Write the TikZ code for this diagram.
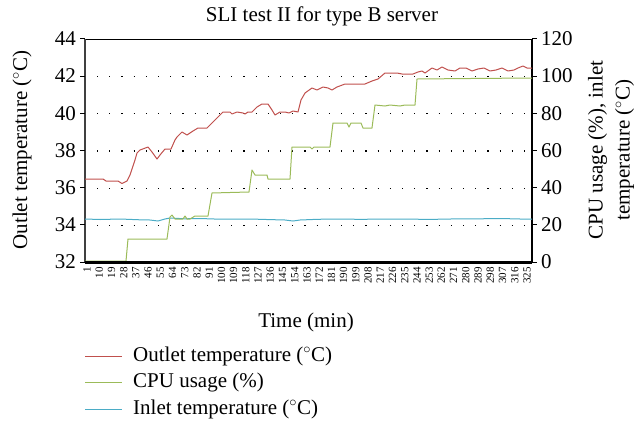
\documentclass[tikz,border=0pt]{standalone}
\usepackage{fontspec}
\setmainfont{Liberation Serif}
\definecolor{outred}{HTML}{C0504D}
\definecolor{cpugreen}{HTML}{9BBB59}
\definecolor{inblue}{HTML}{4BACC6}
\begin{document}
\begin{tikzpicture}[x=1pt,y=-1pt,
  lbl/.style={inner sep=0pt,font=\fontsize{21}{27}\selectfont},
  xlbl/.style={inner sep=0pt,rotate=90,anchor=east,font=\fontsize{11}{11}\selectfont},
  grid/.style={line width=1.2pt,dash pattern=on 1.2pt off 11pt},
  series/.style={line width=1pt,line join=round},
  legline/.style={line width=0.8pt}]
\useasboundingbox (0,0) rectangle (643,424);
% gridlines
\foreach \yy in {76.6,113.8,151,188.2,225.4}{
  \draw[grid] (97,\yy) -- (532,\yy);
}
% frame
\coordinate (tl) at (85,39);
\coordinate (tr) at (532,39);
\coordinate (bl) at (85,262);
\coordinate (br) at (532,262);
\draw[line width=0.8pt] (tl) -- (tr);
\draw[line width=1.2pt] (tr) -- (br);
\draw[line width=2pt,black!75] (tl) -- (bl);
% left ticks and labels
\foreach \v [count=\i from 0] in {32,34,36,38,40,42,44}{
  \pgfmathsetmacro{\yy}{262-\i*37.2}
  \draw[line width=1pt] (80,\yy) -- (85,\yy);
  \node[lbl,anchor=east] (yl\i) at (76,\yy) {\v};
}
% right ticks and labels
\foreach \v [count=\i from 0] in {0,20,40,60,80,100,120}{
  \pgfmathsetmacro{\yy}{262-\i*37.2}
  \draw[line width=1pt] (532,\yy) -- (537,\yy);
  \node[lbl,anchor=west] (yr\i) at (541,\yy) {\v};
}
% inlet (blue)
\draw[series,inblue] (85,219) -- (100,219.5) -- (120,219) -- (140,219.8) -- (150,220) -- (158,221) -- (165,219) -- (170,218) -- (185,218.8) -- (200,218.5) -- (220,219.2) -- (250,219) -- (270,219.6) -- (285,220) -- (293,221) -- (300,220) -- (315,219.4) -- (330,219) -- (360,219.3) -- (400,219) -- (430,219.4) -- (450,219) -- (480,218.8) -- (500,218.5) -- (520,219) -- (532,219);
% cpu (green)
\draw[series,cpugreen] (85,261) -- (126,261) -- (128,239) -- (167,239) -- (170,217) -- (172,215) -- (175,219) -- (183,219) -- (185,216) -- (187,219) -- (190,219) -- (195,216) -- (208,216) -- (212,193) -- (230,192.5) -- (249,192) -- (252,170) -- (255,175) -- (267,175) -- (268,179) -- (290,179) -- (292,147) -- (310,147) -- (312,149) -- (314,147) -- (330,147) -- (333,123) -- (347,123) -- (349,127) -- (351,123) -- (361,123) -- (363,128) -- (372,128) -- (375,105) -- (385,106) -- (390,105) -- (400,106) -- (405,105) -- (415,105) -- (417,79) -- (470,78.5) -- (532,78);
% outlet (red)
\draw[series,outred] (85,179) -- (103,179) -- (106,181) -- (118,181) -- (122,183.5) -- (127,181) -- (130,175) -- (135,160) -- (137,153) -- (140,150) -- (148,147) -- (152,152) -- (157,159) -- (160,155) -- (165,149) -- (171,149) -- (175,140) -- (177,137) -- (182,132) -- (187,135) -- (193,131) -- (198,128) -- (207,128) -- (215,120) -- (223,112) -- (230,112) -- (232,114) -- (237,112) -- (243,113) -- (245,114) -- (248,112) -- (252,112) -- (257,107) -- (262,104) -- (268,104) -- (272,110) -- (275,115) -- (280,112) -- (285,112) -- (289,113) -- (293,111) -- (298,112) -- (301,100) -- (305,93) -- (312,88) -- (317,90) -- (323,87) -- (328,88) -- (332,90) -- (337,87) -- (345,84) -- (365,84) -- (372,81) -- (378,79) -- (385,73) -- (397,73) -- (402,74) -- (413,74) -- (418,72) -- (422,71) -- (425,73) -- (432,68) -- (437,70) -- (442,67) -- (448,70) -- (455,71) -- (460,68) -- (466,68) -- (472,71) -- (478,69) -- (484,68) -- (490,71) -- (496,70) -- (502,68) -- (508,71) -- (514,70) -- (518,68) -- (523,66) -- (527,68) -- (532,68);
% bottom axis
\draw[line width=3pt] (bl) -- (br);
% x labels
\foreach \k in {0,...,36}{
  \pgfmathtruncatemacro{\t}{1+9*\k}
  \node[xlbl] (xl\k) at (87+\k*12.22,267) {\t};
}
% titles
\node[lbl] (title) at (322,16) {SLI test II for type B server};
\node[lbl] (xtitle) at (306,322) {Time (min)};
\node[lbl,rotate=90] (ytitle) at (22,150) {Outlet temperature (${}^{\circ}$C)};
\node[lbl,rotate=90,align=center] (y2title) at (611,150) {CPU usage (\%), inlet\\temperature (${}^{\circ}$C)};
% legend
\coordinate (l1a) at (85,356); \coordinate (l1b) at (122,356);
\coordinate (l2a) at (85,382); \coordinate (l2b) at (122,382);
\coordinate (l3a) at (85,409); \coordinate (l3b) at (122,409);
\draw[legline,outred] (l1a) -- (l1b);
\draw[legline,cpugreen] (l2a) -- (l2b);
\draw[legline,inblue] (l3a) -- (l3b);
\node[lbl,anchor=west] (leg1) at (133,356) {Outlet temperature (${}^{\circ}$C)};
\node[lbl,anchor=west] (leg2) at (133,382) {CPU usage (\%)};
\node[lbl,anchor=west] (leg3) at (133,409) {Inlet temperature (${}^{\circ}$C)};
\end{tikzpicture}
\end{document}
